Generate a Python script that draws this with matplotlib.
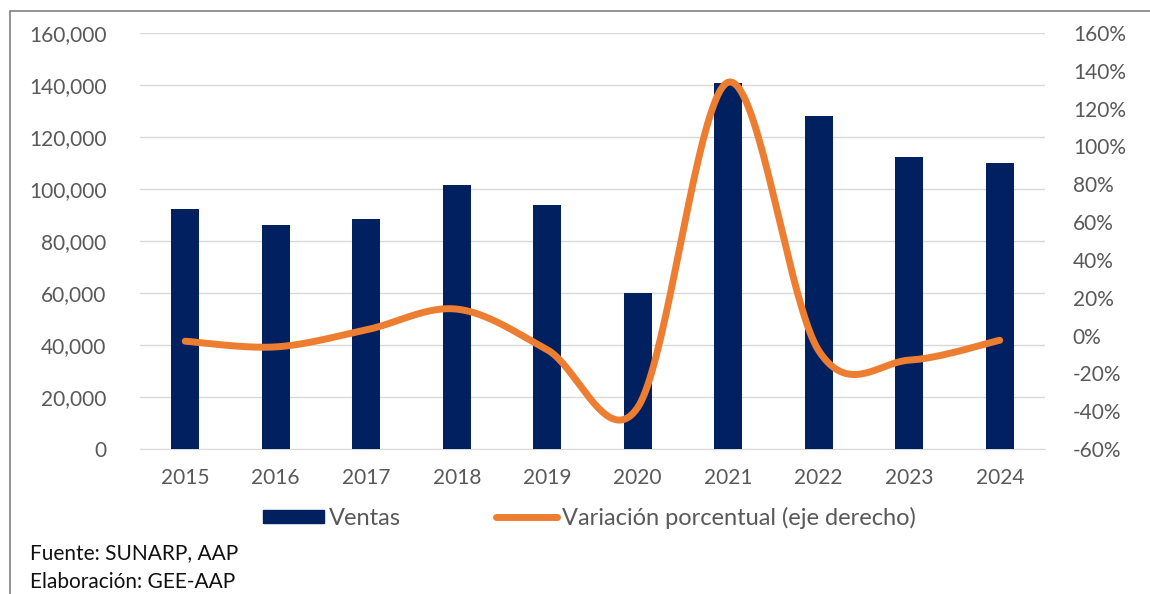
import numpy as np
import matplotlib
matplotlib.use("Agg")
import matplotlib.pyplot as plt
from matplotlib.lines import Line2D
from matplotlib.patches import Patch, Rectangle
from matplotlib.ticker import FuncFormatter, MultipleLocator

years = ["2015", "2016", "2017", "2018", "2019", "2020", "2021", "2022", "2023", "2024"]
ventas = [92300, 86200, 88500, 101500, 93800, 60000, 140800, 128000, 112300, 110000]
variacion = [-3, -6, 3, 14, -7.5, -38, 134, -8, -13, -2.5]

NAVY = "#002060"
ORANGE = "#ED7D31"
GRAY_TXT = "#595959"
FS = 15

plt.rcParams["font.family"] = ["Lato", "DejaVu Sans"]


def smooth(xs, ys, n=40):
    # excel-like smoothed line (catmull-rom style bezier through each point)
    xs = np.asarray(xs, float)
    ys = np.asarray(ys, float)
    px = np.concatenate([[xs[0]], xs, [xs[-1]]])
    py = np.concatenate([[ys[0]], ys, [ys[-1]]])
    outx, outy = [], []
    t = np.linspace(0, 1, n)
    for i in range(1, len(px) - 2):
        p0 = np.array([px[i], py[i]])
        p3 = np.array([px[i + 1], py[i + 1]])
        p1 = p0 + (np.array([px[i + 1], py[i + 1]]) - np.array([px[i - 1], py[i - 1]])) / 6
        p2 = p3 - (np.array([px[i + 2], py[i + 2]]) - np.array([px[i], py[i]])) / 6
        b = ((1 - t) ** 3)[:, None] * p0 + (3 * (1 - t) ** 2 * t)[:, None] * p1 \
            + (3 * (1 - t) * t ** 2)[:, None] * p2 + (t ** 3)[:, None] * p3
        outx.extend(b[:, 0])
        outy.extend(b[:, 1])
    return outx, outy


fig = plt.figure(figsize=(11.5, 5.94), dpi=100)
ax = fig.add_axes([0.1217, 0.2441, 0.7870, 0.7003])
ax2 = ax.twinx()

x = np.arange(len(years))
ax.bar(x, ventas, width=0.31, color=NAVY, zorder=3)
ax.set_ylim(0, 160000)
ax.set_xlim(-0.5, len(years) - 0.5)
ax.yaxis.set_major_locator(MultipleLocator(20000))
ax.yaxis.set_major_formatter(FuncFormatter(lambda v, p: f"{int(v):,}"))
ax.grid(axis="y", color="#D9D9D9", linewidth=1, zorder=0)
ax.set_xticks(x)
ax.set_xticklabels(years)

sx, sy = smooth(x, variacion)
ax2.plot(sx, sy, color=ORANGE, linewidth=5, solid_capstyle="round", zorder=4)
ax2.set_ylim(-60, 160)
ax2.yaxis.set_major_locator(MultipleLocator(20))
ax2.yaxis.set_major_formatter(FuncFormatter(lambda v, p: f"{int(round(v))}%"))

for a in (ax, ax2):
    for s in a.spines.values():
        s.set_visible(False)
    a.tick_params(length=0, labelsize=FS, colors=GRAY_TXT)
ax.spines["bottom"].set_visible(True)
ax.spines["bottom"].set_color("#D9D9D9")
ax.tick_params(axis="y", pad=24)
ax.tick_params(axis="x", pad=14)
ax2.tick_params(axis="y", pad=20)

handles = [
    Patch(facecolor=NAVY, edgecolor=NAVY),
    Line2D([0], [0], color=ORANGE, linewidth=5, solid_capstyle="round"),
]
fig.legend(handles, ["Ventas", "Variación porcentual (eje derecho)"],
           loc="center left", bbox_to_anchor=(263 / 1150, 1 - 518 / 594), ncol=2,
           frameon=False, borderpad=0, borderaxespad=0,
           fontsize=17, labelcolor=GRAY_TXT, handlelength=2.6, handleheight=0.5,
           handletextpad=0.2, columnspacing=4.0)

fig.text(30 / 1150, 1 - 553 / 594, "Fuente: SUNARP, AAP", fontsize=15,
         color="#111111", va="center")
fig.text(30 / 1150, 1 - 582 / 594, "Elaboración: GEE-AAP", fontsize=15,
         color="#111111", va="center")

fig.patches.append(Rectangle((10 / 1150, -0.1), 1.2, 1 - 11 / 594 + 0.1,
                             transform=fig.transFigure, fill=False,
                             edgecolor="#808080", linewidth=1.2))

fig.savefig("out.png", dpi=100)
